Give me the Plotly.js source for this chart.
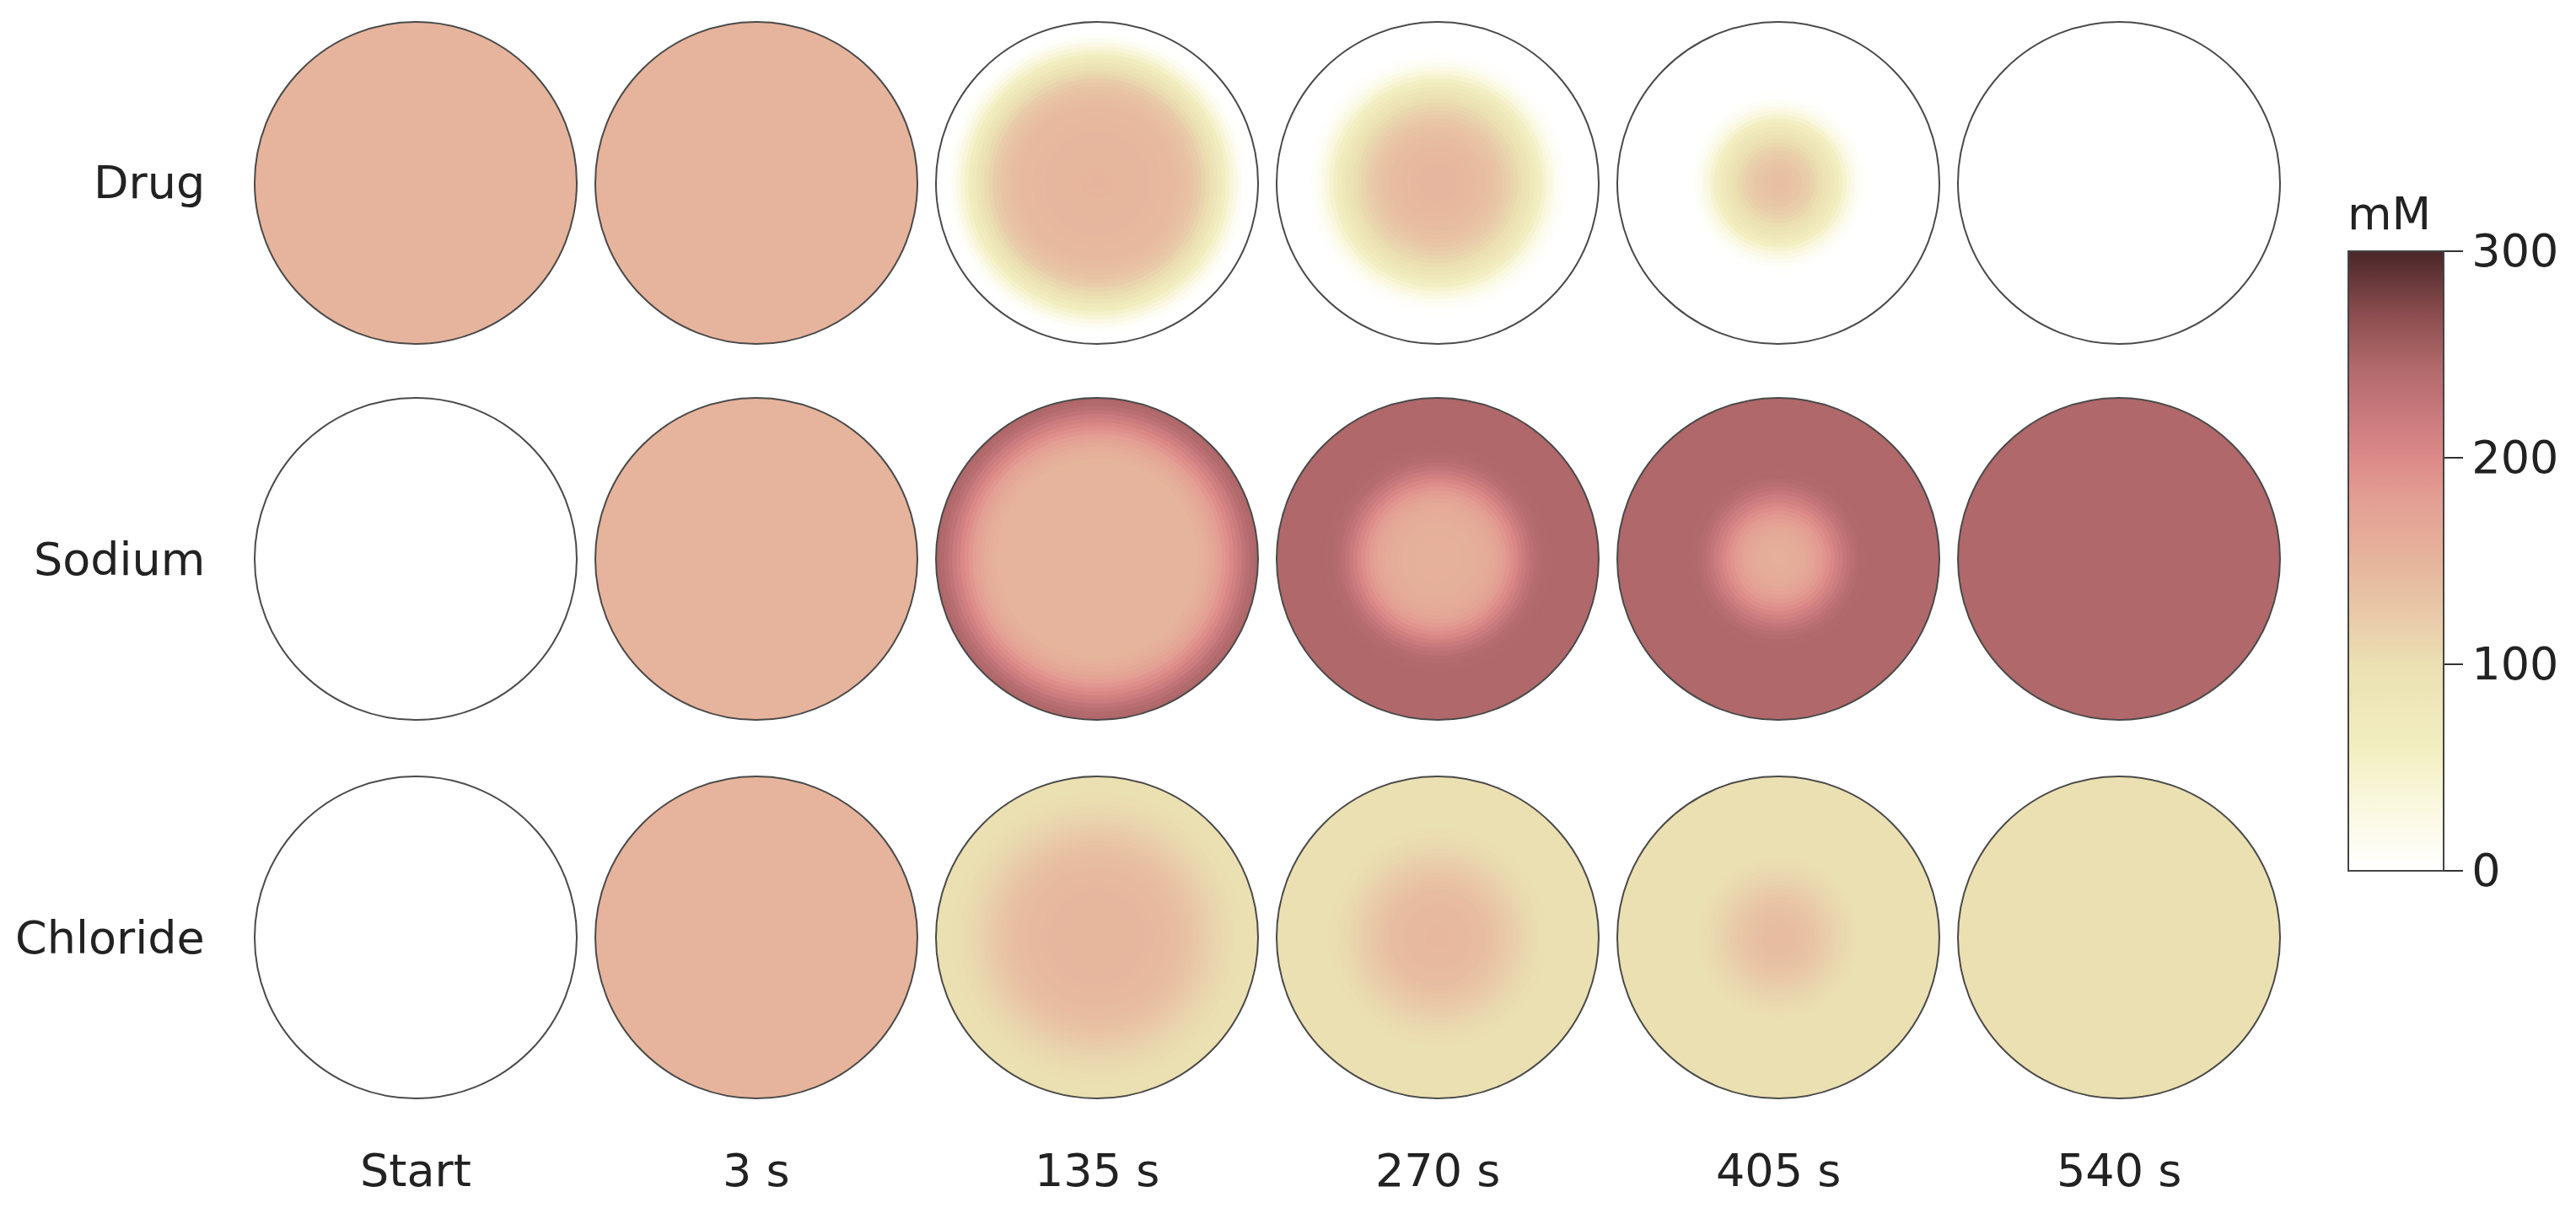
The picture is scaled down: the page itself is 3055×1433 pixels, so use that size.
<!DOCTYPE html>
<html>
<head>
<meta charset="utf-8">
<script src="https://cdn.plot.ly/plotly-3.0.1.min.js"></script>
<style>
  html, body { margin: 0; padding: 0; background: #fff; }
  #chart { width: 3055px; height: 1433px; }
</style>
</head>
<body>
<div id="chart"></div>
<script>
// column / row labels
var times = ['Start', '3 s', '135 s', '270 s', '405 s', '540 s'];
var species = ['Drug', 'Sodium', 'Chloride'];

// radial concentration profiles (mM), ring values from centre to edge
// a single value means the disc is uniform
var drugProfiles = [
    [150],
    [150],
    [150, 150, 149, 149, 148, 148, 148, 147, 147, 147, 146, 146, 146, 145, 145, 145, 144, 144, 143, 142,
     140, 138, 135, 131, 126, 120, 113, 105, 96, 86, 75, 63, 50, 37, 24, 13, 5, 1, 0, 0],
    [147, 147, 146, 146, 146, 145, 145, 144, 143, 142, 141, 139, 137, 134,
     131, 127, 123, 118, 113, 107, 101, 94, 86, 77, 67, 56, 45, 34,
     23, 14, 7, 3, 1, 0, 0, 0, 0, 0, 0, 0],
    [137, 136, 135, 133, 130, 127, 123, 119, 114, 108, 102, 95, 87, 78, 68, 57, 45, 33, 22, 13,
     6, 2, 1, 0, 0, 0, 0, 0, 0, 0, 0, 0, 0, 0, 0, 0, 0, 0, 0, 0],
    [0]
];
var sodiumProfiles = [
    [0],
    [150],
    [150, 150, 150, 150, 150, 150, 150, 150, 150, 150, 150, 150, 150, 150, 150, 150, 150, 150, 150, 150,
     150, 150, 151, 151, 152, 154, 157, 161, 166, 172, 179, 187, 195, 203, 211, 219, 228, 236, 242, 246],
    [154, 154, 154, 155, 155, 155, 156, 156, 157, 158, 159, 161,
     164, 167, 171, 176, 182, 189, 196, 204, 212, 220, 227, 233, 238, 241, 243, 244,
     245, 245, 245, 245, 245, 245, 245, 245, 245, 245, 245, 245],
    [157, 157, 158, 159, 160, 162,
     165, 169, 173, 178, 184, 190, 197, 204, 211, 218, 225, 231, 236, 240, 243, 244,
     245, 245, 245, 245, 245, 245, 245, 245, 245, 245, 245, 245, 245, 245, 245, 245, 245, 245],
    [245]
];
var chlorideProfiles = [
    [0],
    [150],
    [148, 148, 148, 148, 148, 147, 147, 147, 147, 146, 146, 146, 145, 145, 144, 144, 143, 142, 141, 140,
     138, 136, 134, 131, 128, 125, 122, 119, 116, 113, 110, 108, 106, 104, 102, 101, 100, 100, 100, 100],
    [145, 145, 145, 144, 144, 144, 143, 143, 142, 141, 140, 139, 137, 135,
     132, 129, 126, 123, 120, 117, 114, 111, 108, 106, 104, 102, 101, 100, 100, 100,
     100, 100, 100, 100, 100, 100, 100, 100, 100, 100],
    [140, 140, 139, 139, 138, 137, 135, 133, 131, 128,
     125, 122, 119, 116, 113, 110, 107, 105, 103, 101, 100, 100, 100, 100,
     100, 100, 100, 100, 100, 100, 100, 100, 100, 100, 100, 100, 100, 100, 100, 100],
    [100]
];
var colorTicks = [0, 100, 200, 300];

var profiles = [drugProfiles, sodiumProfiles, chlorideProfiles];

var W = 3055, H = 1433;
var colX = [493, 897, 1301, 1705, 2109, 2513];
var rowY = [217, 663, 1112];
var R = 191;

var scale = [
    [0, '#ffffff'],
    [0.1, '#faf8e0'],
    [0.2, '#f2eec0'],
    [0.333, '#ebe0b2'],
    [0.4, '#e9cdaa'],
    [0.5, '#e6b49c'],
    [0.6, '#e39e93'],
    [0.667, '#dc8a88'],
    [0.75, '#c4767a'],
    [0.817, '#b0686a'],
    [0.9, '#8a4c4e'],
    [1, '#4a2628']
];

var font = 'DejaVu Sans, Verdana, sans-serif';
var data = [];
var layout = {
    width: W,
    height: H,
    margin: {l: 0, r: 0, t: 0, b: 0},
    paper_bgcolor: '#fff',
    showlegend: false,
    annotations: []
};

var n = 0;
for (var i = 0; i < species.length; i++) {
    for (var j = 0; j < times.length; j++) {
        n++;
        var key = n === 1 ? 'polar' : 'polar' + n;
        var prof = profiles[i][j];
        var dr = 1 / prof.length;
        // discs drawn from the outside in so the rings have no seams
        var rr = [], cc = [];
        for (var k = prof.length - 1; k >= 0; k--) {
            rr.push((k + 1) * dr);
            cc.push(prof[k]);
        }
        var trace = {
            type: 'barpolar',
            subplot: key,
            r: rr,
            theta: rr.map(function() { return 0; }),
            width: rr.map(function() { return 360; }),
            hoverinfo: 'skip',
            marker: {
                color: cc,
                colorscale: scale,
                cmin: 0,
                cmax: 300,
                showscale: n === 1,
                line: {width: 0}
            }
        };
        if (n === 1) {
            // len counts the title too, so it is longer than the bar itself
            trace.marker.colorbar = {
                x: 2785 / W,
                xanchor: 'left',
                xpad: 0,
                ypad: 0,
                y: 1 - 631 / H,
                yanchor: 'middle',
                len: 803,
                lenmode: 'pixels',
                thickness: 113,
                outlinewidth: 2,
                outlinecolor: '#444',
                ticks: 'outside',
                ticklen: 22,
                tickwidth: 2,
                tickcolor: '#333',
                tickvals: colorTicks,
                tickfont: {family: font, size: 54, color: '#222'},
                title: {text: 'mM', side: 'top', font: {family: font, size: 54, color: '#222'}}
            };
        }
        data.push(trace);
        layout[key] = {
            domain: {
                x: [(colX[j] - R) / W, (colX[j] + R) / W],
                y: [1 - (rowY[i] + R) / H, 1 - (rowY[i] - R) / H]
            },
            bgcolor: '#fff',
            hole: 0,
            barmode: 'overlay',
            radialaxis: {visible: false, range: [0, 1]},
            angularaxis: {
                showline: true,
                linecolor: '#4a4a4a',
                linewidth: 2,
                showgrid: false,
                showticklabels: false,
                ticks: ''
            }
        };
    }
}

for (var i = 0; i < species.length; i++) {
    layout.annotations.push({
        text: species[i],
        xref: 'paper', yref: 'paper',
        x: 245 / W, y: 1 - rowY[i] / H,
        xanchor: 'right', yanchor: 'middle',
        showarrow: false,
        font: {family: font, size: 54, color: '#222'}
    });
}
for (var j = 0; j < times.length; j++) {
    layout.annotations.push({
        text: times[j],
        xref: 'paper', yref: 'paper',
        x: colX[j] / W, y: 1 - 1388 / H,
        xanchor: 'center', yanchor: 'middle',
        showarrow: false,
        font: {family: font, size: 54, color: '#222'}
    });
}

Plotly.newPlot('chart', data, layout, {staticPlot: true});
</script>
</body>
</html>
